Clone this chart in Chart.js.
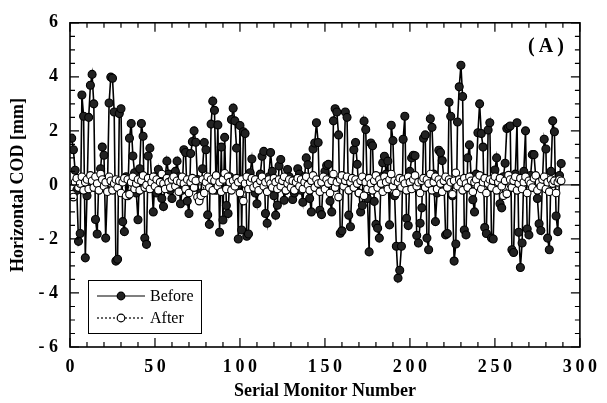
<!DOCTYPE html>
<html>
<head>
<meta charset="utf-8">
<script src="https://cdn.jsdelivr.net/npm/chart.js@4.4.0/dist/chart.umd.min.js"></script>
<style>
	html, body { margin: 0; padding: 0; background: #fff; }
	#wrap { width: 607px; height: 403px; }
</style>
</head>
<body>
<div id="wrap"><canvas id="chart" width="607" height="403"></canvas></div>
<script>
// COD per monitor (monitor 1..289)
var before = [
	1.73, 1.3, 0.54, -0.2, -2.09, -1.8, 3.33, 2.54, -2.7, -0.4,
	2.5, 3.69, 4.09, 3.0, -1.28, -1.82, 0.3, 0.6, 1.4, 1.1,
	-1.97, -0.2, 3.03, 3.99, 3.95, 2.7, -2.82, -2.75, 2.64, 2.82,
	-1.36, -1.73, 0.3, -0.4, 1.73, 2.27, 1.07, 0.45, -0.3, -1.29,
	0.6, 2.27, 1.8, -1.97, -2.2, 1.07, 1.36, 0.2, -1.0, 0.3,
	-0.3, 0.57, 0.2, -0.5, -0.8, 0.3, 0.88, 0.4, -0.2, -0.5,
	0.1, 0.5, 0.88, 0.3, -0.7, -0.2, 1.3, 1.2, -0.6, -1.06,
	1.16, 1.6, 2.0, 1.58, 0.2, -0.5, -0.3, 0.6, 1.57, 1.3,
	-1.11, -1.46, 2.25, 3.1, 2.76, -0.2, 2.22, -1.75, 1.4, -1.3,
	1.76, -0.76, -1.06, 0.3, 2.42, 2.84, 2.37, 1.36, -2.0, 2.2,
	-1.67, 1.97, 1.9, -1.9, -1.82, 0.45, 0.96, 0.2, -0.3, -0.7,
	0.1, 0.4, 1.06, 1.24, -1.06, -1.42, 0.3, 1.2, 0.5, -0.4,
	-1.12, -0.75, 0.7, 0.94, 0.2, -0.57, -0.2, 0.57, 0.3, -0.1,
	-0.54, -0.3, 0.2, 0.6, 0.4, -0.2, -0.64, 0.3, 1.0, 0.75,
	-0.5, -1.0, 1.33, 1.55, 2.3, 1.57, -0.94, -1.1, 0.2, 0.5,
	0.72, 0.76, -0.6, -1.0, 2.37, 2.82, 2.7, 1.85, -1.79, -1.7,
	0.3, 2.7, 2.5, -1.12, -1.55, 0.2, 1.3, 1.57, 0.76, -0.3,
	-1.0, -0.76, 2.36, 2.05, -0.5, -2.48, 1.55, 1.45, -0.61, -1.46,
	-1.6, -1.97, 0.3, 0.82, 1.06, 0.4, 0.88, -1.48, 2.21, 1.64,
	-0.4, -2.27, -3.45, -3.16, -2.27, 1.69, 2.54, -1.24, -1.5, 0.5,
	1.0, 1.1, 1.08, -1.87, -2.15, -1.42, -0.85, 1.73, 1.85, -1.97,
	-2.4, 2.45, 2.13, 0.4, -1.36, -0.3, 1.28, 1.2, 0.9, 0.2,
	-1.85, -1.8, 3.06, 2.54, -0.4, -2.82, -2.19, 2.33, 3.63, 4.43,
	3.27, -1.67, -1.85, 1.0, 1.48, 0.3, -0.55, -1.0, 0.4, 1.93,
	3.0, 1.9, 1.4, -1.58, -1.8, 2.03, 2.3, -1.97, -2.0, 0.55,
	1.0, 0.2, -0.7, -0.85, 0.3, 0.8, 2.09, 2.13, 2.18, -2.4,
	-2.5, 0.4, 2.3, -1.75, -3.06, -2.15, 0.5, 2.0, -1.63, -1.85,
	0.35, 1.12, 1.12, 0.3, -0.5, -1.44, -1.69, 0.2, 1.69, 1.33,
	-1.97, -2.4, 0.5, 2.37, 1.97, -1.15, -1.73, 0.35, 0.79
];
var after = [
	-0.35, -0.45, 0.1, 0.25, -0.1, 0.05, 0.3, -0.2, 0.1, 0.2,
	-0.15, 0.35, 0.15, -0.1, 0.3, 0.05, -0.2, 0.4, 0.2, -0.05,
	0.1, -0.25, 0.3, 0.15, -0.2, 0.05, 0.2, -0.1, 0.15, -0.3,
	0.1, 0.25, -0.4, 0.2, -0.35, 0.1, 0.3, -0.15, 0.05, 0.2,
	-0.2, 0.15, 0.35, -0.1, 0.0, 0.25, -0.15, 0.1, 0.3, -0.05,
	0.2, -0.2, 0.1, 0.4, 0.05, -0.15, 0.25, 0.1, -0.1, 0.2,
	0.3, -0.05, 0.15, -0.25, 0.1, 0.3, 0.05, -0.15, 0.2, -0.3,
	0.1, 0.25, -0.1, 0.15, -0.45, -0.6, -0.4, 0.2, -0.3, 0.1,
	0.3, -0.1, 0.2, -0.2, 0.15, 0.35, -0.05, 0.1, -0.25, 0.2,
	0.43, -0.15, 0.3, 0.1, -0.2, 0.15, -0.05, 0.25, 0.1, -0.3,
	0.2, -0.6, 0.05, 0.3, -0.15, 0.1, 0.25, -0.1, 0.2, 0.0,
	-0.2, 0.15, 0.3, -0.05, 0.1, -0.25, 0.2, 0.05, -0.1, 0.25,
	0.1, -0.15, 0.2, -0.05, 0.15, 0.3, -0.2, 0.05, 0.2, -0.1,
	0.15, -0.2, 0.1, 0.25, -0.05, 0.2, -0.15, 0.1, 0.3, 0.0,
	-0.2, 0.15, 0.35, -0.1, 0.2, 0.05, -0.25, 0.1, 0.3, -0.15,
	0.2, 0.05, -0.3, 0.15, 0.4, -0.1, 0.1, -0.45, 0.2, 0.35,
	-0.05, 0.15, 0.3, -0.2, 0.1, 0.25, -0.1, 0.2, 0.05, -0.3,
	0.15, 0.3, -0.4, 0.1, -0.15, 0.25, 0.05, -0.2, 0.15, 0.35,
	-0.1, 0.2, 0.05, -0.25, 0.3, 0.1, -0.15, 0.2, 0.4, -0.05,
	0.15, -0.3, 0.1, 0.25, -0.1, 0.2, 0.05, -0.2, 0.3, 0.1,
	-0.15, 0.2, 0.35, -0.05, 0.1, -0.3, 0.15, 0.25, -0.1, 0.2,
	0.05, 0.4, -0.2, 0.1, 0.3, -0.15, 0.2, 0.05, -0.25, 0.15,
	0.3, -0.1, 0.2, 0.1, -0.35, 0.15, 0.45, -0.05, 0.2, 0.1,
	-0.2, 0.25, 0.05, -0.1, 0.3, 0.15, -0.25, 0.1, 0.2, -0.05,
	0.35, -0.15, 0.1, 0.25, -0.3, 0.05, 0.2, -0.1, 0.15, 0.3,
	-0.2, 0.1, 0.25, -0.05, -0.4, 0.15, -0.33, 0.36, 0.2, -0.1,
	0.15, 0.3, -0.2, 0.05, 0.25, -0.15, 0.1, 0.3, -0.3, 0.15,
	0.05, -0.1, 0.25, 0.35, -0.2, 0.1, -0.05, 0.2, 0.3, -0.15,
	0.1, -0.25, 0.2, 0.05, 0.15, -0.3, 0.1, 0.2, 0.15
];
var seriesNames = ['Before', 'After'];
var xTitle = 'Serial Monitor Number';
var yTitle = 'Horizontal COD [mm]';
var panelLabel = '(\u2009A\u2009)';

var serif = '"Liberation Serif", "Times New Roman", serif';

function toPoints(arr) {
	var pts = [];
	for (var i = 0; i < arr.length; i++) {
		pts.push({ x: i + 1, y: arr[i] });
	}
	return pts;
}

// frame with inward ticks on all four sides, zero line, legend box, panel label
var framePlugin = {
	id: 'framePlugin',
	beforeDatasetsDraw: function (chart) {
		var ctx = chart.ctx, a = chart.chartArea;
		var y0 = chart.scales.y.getPixelForValue(0);
		ctx.save();
		ctx.strokeStyle = '#000';
		ctx.lineWidth = 1;
		ctx.beginPath();
		ctx.moveTo(a.left, y0);
		ctx.lineTo(a.right, y0);
		ctx.stroke();
		ctx.restore();
	},
	afterDatasetsDraw: function (chart) {
		var ctx = chart.ctx, a = chart.chartArea;
		var xs = chart.scales.x, ys = chart.scales.y;
		ctx.save();
		ctx.strokeStyle = '#000';
		ctx.lineWidth = 1.6;
		ctx.strokeRect(a.left, a.top, a.right - a.left, a.bottom - a.top);
		ctx.lineWidth = 1.2;
		ctx.beginPath();
		for (var v = 0; v <= 300; v += 10) {
			var px = xs.getPixelForValue(v);
			var len = v % 50 === 0 ? 9 : 5;
			ctx.moveTo(px, a.bottom);
			ctx.lineTo(px, a.bottom - len);
			ctx.moveTo(px, a.top);
			ctx.lineTo(px, a.top + len);
		}
		for (var w = -6; w <= 6; w += 0.5) {
			var py = ys.getPixelForValue(w);
			var l2 = w % 2 === 0 ? 9 : 5;
			ctx.moveTo(a.left, py);
			ctx.lineTo(a.left + l2, py);
			ctx.moveTo(a.right, py);
			ctx.lineTo(a.right - l2, py);
		}
		ctx.stroke();
		ctx.restore();
	},
	afterDraw: function (chart) {
		var ctx = chart.ctx;
		ctx.save();
		// legend
		ctx.strokeStyle = '#000';
		ctx.lineWidth = 1;
		ctx.strokeRect(88.5, 280.5, 113, 53);
		ctx.lineWidth = 1.2;
		ctx.beginPath();
		ctx.moveTo(97, 296);
		ctx.lineTo(145, 296);
		ctx.stroke();
		ctx.setLineDash([2, 2]);
		ctx.beginPath();
		ctx.moveTo(97, 318);
		ctx.lineTo(145, 318);
		ctx.stroke();
		ctx.setLineDash([]);
		ctx.beginPath();
		ctx.arc(121, 296, 3.8, 0, Math.PI * 2);
		ctx.fillStyle = '#222';
		ctx.fill();
		ctx.stroke();
		ctx.beginPath();
		ctx.arc(121, 318, 3.8, 0, Math.PI * 2);
		ctx.fillStyle = '#fff';
		ctx.fill();
		ctx.stroke();
		ctx.fillStyle = '#000';
		ctx.font = '16px ' + serif;
		ctx.textBaseline = 'middle';
		ctx.textAlign = 'left';
		ctx.fillText(seriesNames[0], 150, 297);
		ctx.fillText(seriesNames[1], 150, 319);
		// panel label
		ctx.font = 'bold 20px ' + serif;
		ctx.textAlign = 'center';
		ctx.fillText(panelLabel, 546, 47);
		ctx.restore();
	}
};

var ctx = document.getElementById('chart').getContext('2d');
var myChart = new Chart(ctx, {
	type: 'line',
	data: {
		datasets: [{
			label: seriesNames[1],
			data: toPoints(after),
			borderColor: '#000',
			borderWidth: 1,
			borderDash: [2, 2],
			backgroundColor: '#fff',
			pointBackgroundColor: '#fff',
			pointBorderColor: '#000',
			pointBorderWidth: 1.1,
			pointRadius: 3.8,
			tension: 0,
			order: 0
		}, {
			label: seriesNames[0],
			data: toPoints(before),
			borderColor: '#000',
			borderWidth: 1.6,
			backgroundColor: '#222',
			pointBackgroundColor: '#222',
			pointBorderColor: '#000',
			pointBorderWidth: 1.1,
			pointRadius: 4,
			tension: 0,
			order: 1
		}]
	},
	options: {
		responsive: false,
		animation: false,
		layout: { padding: { top: 18, right: 20, left: 0, bottom: 0 } },
		plugins: {
			legend: { display: false },
			tooltip: { enabled: false }
		},
		scales: {
			x: {
				type: 'linear',
				min: 0,
				max: 300,
				grid: { display: false, drawTicks: false },
				border: { display: false },
				ticks: {
					stepSize: 50,
					color: '#000',
					padding: 10,
					maxRotation: 0,
					font: { family: serif, size: 18, weight: 'bold' },
					callback: function (v) {
						return String(v).split('').join('\u2009');
					}
				},
				title: {
					display: true,
					text: xTitle,
					color: '#000',
					font: { family: serif, size: 18, weight: 'bold' },
					padding: { top: 0, bottom: 1 }
				},
				afterFit: function (scale) { scale.height = 56; }
			},
			y: {
				min: -6,
				max: 6,
				grid: { display: false, drawTicks: false },
				border: { display: false },
				ticks: {
					stepSize: 2,
					color: '#000',
					padding: 12,
					font: { family: serif, size: 18, weight: 'bold' },
					callback: function (v) {
						return v < 0 ? '- ' + (-v) : String(v);
					}
				},
				title: {
					display: true,
					text: yTitle,
					color: '#000',
					font: { family: serif, size: 18, weight: 'bold' },
					padding: { top: 8, bottom: 0 }
				},
				afterFit: function (scale) { scale.width = 70; }
			}
		}
	},
	plugins: [framePlugin]
});
</script>
</body>
</html>
